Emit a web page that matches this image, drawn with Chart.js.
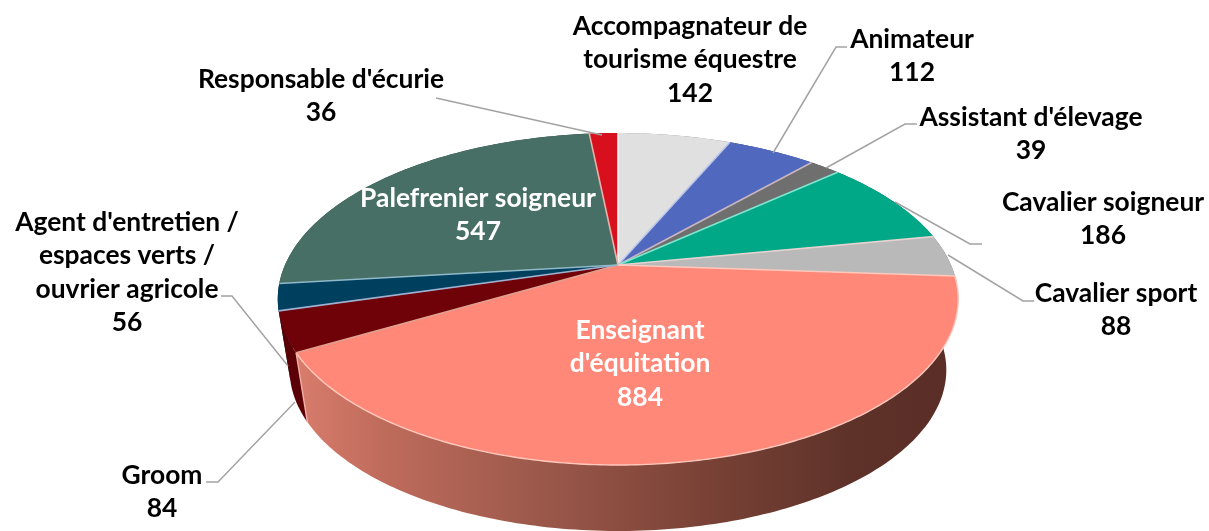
<!DOCTYPE html>
<html><head><meta charset="utf-8">
<style>html,body{margin:0;padding:0;background:#fff}#w{width:1209px;height:531px;position:relative}</style>
<script src="https://cdn.jsdelivr.net/npm/chart.js@4"></script>
</head><body><div id="w"><canvas id="c" width="1209" height="531"></canvas></div>
<script>
const categories = ["Accompagnateur de\ntourisme équestre","Animateur","Assistant d'élevage","Cavalier soigneur","Cavalier sport","Enseignant\nd'équitation","Groom","Agent d'entretien /\nespaces verts /\nouvrier agricole","Palefrenier soigneur","Responsable d'écurie"];
const values = [142,112,39,186,88,884,84,56,547,36];
const colors = ["#E0E0E0","#5068BE","#6F6F6F","#00A887","#B9B9B9","#FF8879","#6E0208","#00405F","#476F65","#D8101E"];
const edges = ["#F2F2F2","#BCC6EA","#C9B5C0","#7FE6D0","#E6D2D0","#FFC8BC","#E0A090","#9FB0D0","#8FB8C8","#E8B0A8"];
const sides = ["#8A8A8A","#2E3F78","#404040","#006A55","#707070","#A05A4C","#5A0006","#002A40","#2C4740","#8A0A12"];
const labelCenters = [[690,26],[912,39],[1031,117],[1103,202],[1116,293],[640,330],[162,475],[127,222],[478,198],[321,79]];
const whiteLabels = [5,8];
const leaders = [
 [[436,98],[602,135]],
 [[847,47],[836,47],[773,153]],
 [[917,124],[905,124],[826,168]],
 [[895,202],[970,244],[982,244]],
 [[948,255],[1023,301],[1034,301]],
 [[221,296],[232,296],[288,366]],
 [[206,482],[218,482],[295,402]]
];
const CX=618, CY=265, RX=333, K=-0.205, A=159;
const DROP=72, SX=0.965, SY=0.97;
function proj(t){ // t measured by Chart.js, 0 = 3 o'clock, clockwise
  const u=Math.cos(t), v=Math.sin(t), w=1+K*v;
  return [u*RX/w, v*A/w];
}
const top_=p=>[CX+p[0],CY+p[1]];
const low=p=>[CX+p[0]*SX,CY+DROP+p[1]*SY];
const pie3d={id:'pie3d',
 beforeDatasetsDraw(chart){
  const ctx=chart.ctx, arcs=chart.getDatasetMeta(0).data;
  const order=arcs.map((a,i)=>i).sort((i,j)=>Math.sin((arcs[i].startAngle+arcs[i].endAngle)/2)-Math.sin((arcs[j].startAngle+arcs[j].endAngle)/2));
  // side wall
  order.forEach(i=>{
    const a=arcs[i], n=Math.max(4,Math.ceil((a.endAngle-a.startAngle)*60));
    const pts=[];for(let s=0;s<=n;s++)pts.push(proj(a.startAngle+(a.endAngle-a.startAngle)*s/n));
    ctx.beginPath();
    pts.forEach((p,s)=>{const q=top_(p);s?ctx.lineTo(q[0],q[1]):ctx.moveTo(q[0],q[1]);});
    pts.slice().reverse().forEach(p=>{const q=low(p);ctx.lineTo(q[0],q[1]);});
    ctx.closePath();
    if(i===5){
      const g=ctx.createLinearGradient(300,0,950,0);
      g.addColorStop(0,'#D87C6C');g.addColorStop(.12,'#C06C5C');g.addColorStop(.35,'#9E5A4C');g.addColorStop(.62,'#7A4236');g.addColorStop(.85,'#5E3229');g.addColorStop(1,'#5A2E26');
      ctx.fillStyle=g;
    } else ctx.fillStyle=sides[i];
    ctx.fill();
  });
  // top face
  arcs.forEach((a,i)=>{
    const n=Math.max(4,Math.ceil((a.endAngle-a.startAngle)*80));
    ctx.beginPath();ctx.moveTo(CX,CY);
    for(let s=0;s<=n;s++){const q=top_(proj(a.startAngle+(a.endAngle-a.startAngle)*s/n));ctx.lineTo(q[0],q[1]);}
    ctx.closePath();ctx.fillStyle=colors[i];ctx.fill();
  });
  arcs.forEach((a,i)=>{
    const n=Math.max(4,Math.ceil((a.endAngle-a.startAngle)*80));
    const q=top_(proj(a.startAngle));
    ctx.beginPath();ctx.moveTo(CX,CY);ctx.lineTo(q[0],q[1]);
    ctx.strokeStyle=edges[i];ctx.lineWidth=1.6;ctx.stroke();
    if(i===5){ // lit rim on the front of the largest slice
      ctx.beginPath();
      for(let s=0;s<=n;s++){const r=top_(proj(a.startAngle+(a.endAngle-a.startAngle)*s/n));s?ctx.lineTo(r[0],r[1]):ctx.moveTo(r[0],r[1]);}
      ctx.strokeStyle=edges[i];ctx.lineWidth=1.4;ctx.stroke();
      const e=top_(proj(a.endAngle)), f=low(proj(a.endAngle));
      ctx.beginPath();ctx.moveTo(e[0],e[1]);ctx.lineTo(f[0],f[1]);ctx.strokeStyle='#F0B0A4';ctx.lineWidth=1.4;ctx.stroke();
    }
  });
  return false;
 },
 afterDraw(chart){
  const ctx=chart.ctx;
  ctx.strokeStyle='#A3A3A3';ctx.lineWidth=1.5;
  leaders.forEach(l=>{ctx.beginPath();l.forEach((p,i)=>i?ctx.lineTo(p[0],p[1]):ctx.moveTo(p[0],p[1]));ctx.stroke();});
  ctx.font='bold 26.4px Lato';ctx.textAlign='center';ctx.textBaseline='middle';
  categories.forEach((c,i)=>{
    const lines=c.split('\n').concat(String(values[i]));
    ctx.fillStyle=whiteLabels.includes(i)?'#FFFFFF':'#000000';
    lines.forEach((t,k)=>ctx.fillText(t,labelCenters[i][0],labelCenters[i][1]+k*33.5));
  });
 }
};
new Chart(document.getElementById('c'),{type:'pie',
 data:{labels:categories,datasets:[{data:values,backgroundColor:colors,borderWidth:0}]},
 options:{responsive:false,animation:false,rotation:0,
  plugins:{legend:{display:false},tooltip:{enabled:false}}},
 plugins:[pie3d]});
</script></body></html>
